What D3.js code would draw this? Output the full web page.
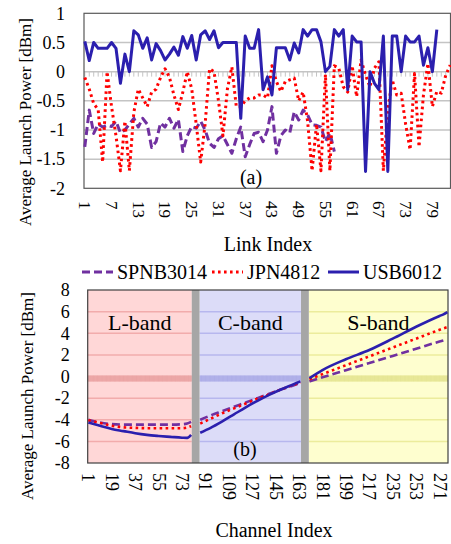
<!DOCTYPE html>
<html>
<head>
<meta charset="utf-8">
<script src="https://cdn.jsdelivr.net/npm/d3@7"></script>
<style>
  body { margin: 0; background: #fff; }
  svg text { font-family: "Liberation Serif", "Times New Roman", serif; fill: #000; }
</style>
</head>
<body>
<svg id="chart" width="451" height="544"></svg>
<script>
// ---- (a) per-link data ----
const linkIdx = d3.range(1, 84);
const linkTicks = [1, 7, 13, 19, 25, 31, 37, 43, 49, 55, 61, 67, 73, 79];

const spnbLink = [-1.29, -0.66, -1.06, -0.9, -0.95, -0.92, -0.94, -0.85, -1.05, -1.0,
  -0.9, -0.8, -0.95, -0.8, -0.9, -1.3, -1.2, -0.88, -0.95, -0.8,
  -0.97, -0.82, -1.37, -1.1, -0.94, -0.97, -0.85, -1.0, -1.23, -1.3,
  -1.15, -1.1, -1.25, -1.4, -1.15, -0.95, -1.46, -1.25, -1.06, -1.04,
  -1.2, -1.0, -0.6, -1.4, -1.1, -1.0, -1.05, -0.69, -0.83, -0.66,
  -0.74, -0.91, -0.92, -0.95, -1.2, -1.05, -1.37];

const jpnLink = [-0.1, -0.3, -0.55, -0.65, -1.55, 0.0, -0.6, -1.1, -1.7, -0.85,
  -1.7, -0.7, -0.3, -0.45, -0.6, -0.35, -0.3, -0.1, 0.05, -0.1,
  -0.4, -0.65, -0.35, 0.0, -0.3, -0.9, -1.55, -0.9, 0.05, 0.0,
  -0.5, -1.1, -0.3, 0.08, -0.6, -0.6, -0.5, -0.45, -0.45, -0.4,
  -0.4, -0.45, 0.1, -0.17, -0.34, -0.17, -0.14, -0.11, -0.5, -0.35,
  -0.85, -1.7, -0.9, -1.7, -0.05, -1.7, 0.1, 0.06, -0.26, -0.35,
  0.1, -0.43, 0.2, -0.06, -0.26, 0.06, 0.17, -1.7, -0.66, -0.14,
  -0.4, -0.37, -0.9, -1.34, -0.03, -1.29, -0.4, 0.14, -0.6, -0.34,
  -0.37, -0.06, 0.11];

const usbLink = [0.52, 0.19, 0.5, 0.4, 0.4, 0.4, 0.5, 0.4, -0.2, 0.3,
  0.0, 0.7, 0.63, 0.4, 0.58, 0.2, 0.48, 0.36, 0.2, 0.3,
  0.42, 0.28, 0.6, 0.4, 0.62, 0.2, 0.63, 0.7, 0.55, 0.7,
  0.41, 0.5, 0.5, 0.5, 0.5, -0.8, 0.61, 0.4, 0.4, 0.72,
  -0.31, -0.09, -0.4, 0.41, 0.41, 0.41, 0.2, 0.49, 0.32, 0.72,
  0.61, 0.72, 0.72, 0.51, 0.0, 0.09, 0.72, 0.61, 0.72, -0.31,
  0.61, 0.51, 0.51, -1.71, 0.0, -0.2, -0.31, 0.61, -1.71, 0.61,
  0.61, 0.0, 0.61, 0.51, 0.51, 0.61, 0.11, 0.41, 0.0, 0.72];

// ---- (b) per-channel data ----
const channelTicks = [1, 19, 37, 55, 73, 91, 109, 127, 145, 163, 181, 199, 217, 235, 253, 271];
const channelCount = 277;

const bandNames = ["L-band", "C-band", "S-band"];
const bandFirst = [1, 87, 171];
const bandLast = [80, 164, 277];
const gapFirst = [81, 165];
const gapLast = [86, 170];

const lChannels = [1, 10, 19, 28, 37, 46, 55, 64, 73, 77, 80];
const cChannels = [87, 95, 104, 113, 122, 131, 140, 149, 158, 164];
const sChannels = [171, 181, 199, 217, 235, 253, 271, 274, 277];

const spnbL = [-4.0, -4.25, -4.4, -4.45, -4.45, -4.45, -4.45, -4.45, -4.42, -4.35, -4.2];
const jpnL = [-4.05, -4.3, -4.55, -4.7, -4.75, -4.78, -4.78, -4.78, -4.78, -4.72, -4.6];
const usbL = [-4.26, -4.56, -4.85, -5.05, -5.25, -5.4, -5.5, -5.58, -5.66, -5.68, -5.4];

const spnbC = [-4.0, -3.6, -3.2, -2.8, -2.4, -2.0, -1.6, -1.2, -0.85, -0.6];
const jpnC = [-4.35, -3.9, -3.4, -2.95, -2.5, -2.05, -1.65, -1.2, -0.8, -0.55];
const usbC = [-5.2, -4.75, -4.15, -3.5, -2.85, -2.25, -1.7, -1.2, -0.75, -0.45];

const spnbS = [-0.46, -0.08, 0.58, 1.24, 1.9, 2.57, 3.23, 3.33, null];
const jpnS = [-0.25, 0.22, 1.04, 1.86, 2.68, 3.5, 4.32, 4.45, 4.57];
const usbS = [-0.15, 0.6, 1.6, 2.45, 3.5, 4.6, 5.6, 5.75, 5.96];

const seriesNames = ["SPNB3014", "JPN4812", "USB6012"];
const seriesColor = ["#7030a0", "#ff0000", "#2b1fae"];
const seriesDash = ["8,4", "2.6,3.4", null];

const svg = d3.select("#chart");

// ================= (a) =================
const x1 = d3.scaleLinear().domain([1, 83]).range([84.8, 450.2]);
const y1 = d3.scaleLinear().domain([-2, 1]).range([188.3, 13.3]);

const gA = svg.append("g");

gA.selectAll(".grid")
  .data([0.5, 0, -0.5, -1, -1.5])
  .join("line")
  .attr("x1", 84).attr("x2", 450.5)
  .attr("y1", d => y1(d)).attr("y2", d => y1(d))
  .attr("stroke", "#c4c4c4")
  .attr("stroke-width", 1.5);

gA.selectAll(".zt")
  .data(linkIdx)
  .join("line")
  .attr("x1", d => x1(d)).attr("x2", d => x1(d))
  .attr("y1", y1(0)).attr("y2", y1(0) + 5)
  .attr("stroke", "#c4c4c4")
  .attr("stroke-width", 1);

gA.append("rect")
  .attr("x", 84).attr("y", y1(1))
  .attr("width", 366.5).attr("height", y1(-2) - y1(1))
  .attr("fill", "none")
  .attr("stroke", "#595959")
  .attr("stroke-width", 1.2);

const linkSeries = [spnbLink, jpnLink, usbLink];
const lineA = d3.line().x((d, i) => x1(i + 1)).y(d => y1(d));

linkSeries.forEach((s, k) => {
  gA.append("path")
    .datum(s)
    .attr("d", lineA)
    .attr("fill", "none")
    .attr("stroke", seriesColor[k])
    .attr("stroke-width", 3)
    .attr("stroke-dasharray", seriesDash[k])
    .attr("stroke-linejoin", "round");
});

const yAxisA = d3.axisLeft(y1)
  .tickValues([1, 0.5, 0, -0.5, -1, -1.5, -2])
  .tickSize(0).tickPadding(19)
  .tickFormat(d => String(d));
gA.append("g").attr("transform", "translate(84,0)").call(yAxisA)
  .call(g => g.select(".domain").remove())
  .selectAll("text")
  .attr("font-size", 18)
  .attr("font-family", "Liberation Serif, serif");

gA.selectAll(".xlab")
  .data(linkTicks)
  .join("text")
  .attr("transform", d => `translate(${x1(d)},201) rotate(90)`)
  .attr("dy", "0.33em")
  .attr("font-size", 17)
  .text(d => d);

gA.append("text")
  .attr("x", 268).attr("y", 251)
  .attr("text-anchor", "middle")
  .attr("font-size", 20)
  .text("Link Index");

gA.append("text")
  .attr("transform", "translate(25,122) rotate(-90)")
  .attr("text-anchor", "middle")
  .attr("dy", "0.35em")
  .attr("font-size", 17)
  .text("Average Launch Power [dBm]");

gA.append("text")
  .attr("x", 251).attr("y", 184)
  .attr("text-anchor", "middle")
  .attr("font-size", 20)
  .text("(a)");

// ================= (b) =================
const x2 = d3.scaleLinear().domain([0.5, channelCount + 0.5]).range([87.7, 448]);
const y2 = d3.scaleLinear().domain([-8, 8]).range([463, 290]);

const gB = svg.append("g");
const bandFill = ["#ffd7d7", "#dcdcf8", "#fefecf"];
const bandGrid = ["#f2acac", "#b7b7ee", "#ecec9c"];
const bandZero = ["#e6a2a2", "#a9a9e4", "#e2e292"];

bandNames.forEach((b, k) => {
  const bx0 = x2(bandFirst[k] - 0.5), bx1 = x2(bandLast[k] + 0.5);
  gB.append("rect")
    .attr("x", bx0).attr("y", y2(8))
    .attr("width", bx1 - bx0).attr("height", y2(-8) - y2(8))
    .attr("fill", bandFill[k]);
  gB.selectAll(null)
    .data([6, 4, 2, -2, -4, -6])
    .join("line")
    .attr("x1", bx0).attr("x2", bx1)
    .attr("y1", d => y2(d)).attr("y2", d => y2(d))
    .attr("stroke", bandGrid[k])
    .attr("stroke-width", 1.5);
  gB.append("rect")
    .attr("x", bx0).attr("y", y2(0) - 1)
    .attr("width", bx1 - bx0).attr("height", 6)
    .attr("fill", bandGrid[k]);
  gB.selectAll(null)
    .data(d3.range(bandFirst[k], bandLast[k] + 1))
    .join("line")
    .attr("x1", d => x2(d)).attr("x2", d => x2(d))
    .attr("y1", y2(0) - 1).attr("y2", y2(0) + 5)
    .attr("stroke", bandZero[k])
    .attr("stroke-width", 0.7);
  gB.append("text")
    .attr("x", (bx0 + bx1) / 2).attr("y", 330)
    .attr("text-anchor", "middle")
    .attr("font-size", 22)
    .text(b);
});

gapFirst.forEach((g, k) => {
  gB.append("rect")
    .attr("x", x2(g - 0.5)).attr("y", y2(8))
    .attr("width", x2(gapLast[k] + 0.5) - x2(g - 0.5))
    .attr("height", y2(-8) - y2(8))
    .attr("fill", "#a6a6a6");
});

gB.append("rect")
  .attr("x", 87.7).attr("y", y2(8))
  .attr("width", 448 - 87.7).attr("height", y2(-8) - y2(8))
  .attr("fill", "none")
  .attr("stroke", "#404040")
  .attr("stroke-width", 1.2);

const lineB = d3.line()
  .defined(d => d[1] !== null)
  .x(d => x2(d[0])).y(d => y2(d[1]))
  .curve(d3.curveMonotoneX);

const bandSeries = [
  [[lChannels, spnbL], [cChannels, spnbC], [sChannels, spnbS]],
  [[lChannels, jpnL], [cChannels, jpnC], [sChannels, jpnS]],
  [[lChannels, usbL], [cChannels, usbC], [sChannels, usbS]]
];

bandSeries.forEach((segs, k) => {
  segs.forEach(([ch, vals]) => {
    gB.append("path")
      .datum(ch.map((c, i) => [c, vals[i]]))
      .attr("d", lineB)
      .attr("fill", "none")
      .attr("stroke", seriesColor[k])
      .attr("stroke-width", 2.6)
      .attr("stroke-dasharray", seriesDash[k]);
  });
});

const yAxisB = d3.axisLeft(y2)
  .tickValues([8, 6, 4, 2, 0, -2, -4, -6, -8])
  .tickSize(0).tickPadding(18)
  .tickFormat(d => String(d));
gB.append("g").attr("transform", "translate(87.7,0)").call(yAxisB)
  .call(g => g.select(".domain").remove())
  .selectAll("text")
  .attr("font-size", 18)
  .attr("font-family", "Liberation Serif, serif");

gB.selectAll(".clab")
  .data(channelTicks)
  .join("text")
  .attr("transform", d => `translate(${x2(d)},473) rotate(90)`)
  .attr("dy", "0.33em")
  .attr("font-size", 18)
  .text(d => d);

gB.append("text")
  .attr("x", 274).attr("y", 537)
  .attr("text-anchor", "middle")
  .attr("font-size", 20)
  .text("Channel Index");

gB.append("text")
  .attr("transform", "translate(27,396) rotate(-90)")
  .attr("text-anchor", "middle")
  .attr("dy", "0.35em")
  .attr("font-size", 17)
  .text("Average Launch Power [dBm]");

gB.append("text")
  .attr("x", 245).attr("y", 456)
  .attr("text-anchor", "middle")
  .attr("font-size", 20)
  .text("(b)");

// legend
const legX = [82, 212, 328];
const legend = svg.append("g").selectAll("g")
  .data(seriesNames)
  .join("g")
  .attr("transform", (d, i) => `translate(${legX[i]},272)`);
legend.append("line")
  .attr("x1", 0).attr("x2", 31)
  .attr("stroke", (d, i) => seriesColor[i])
  .attr("stroke-width", 3)
  .attr("stroke-dasharray", (d, i) => seriesDash[i]);
legend.append("text")
  .attr("x", 35).attr("y", 7)
  .attr("font-size", 20)
  .text(d => d);
</script>
</body>
</html>
